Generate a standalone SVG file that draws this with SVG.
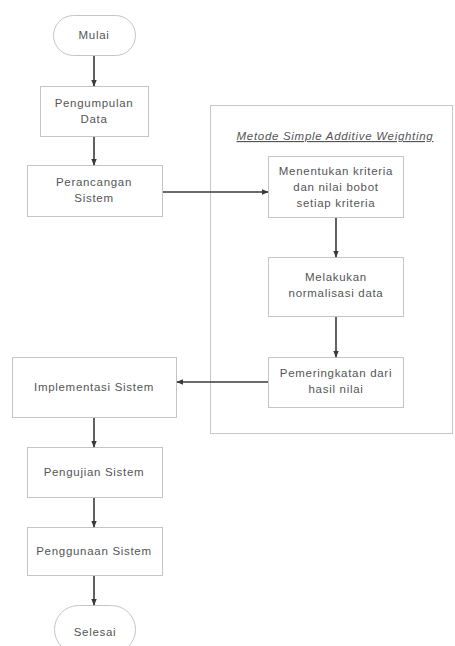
<svg xmlns="http://www.w3.org/2000/svg" width="455" height="646" viewBox="0 0 455 646">
<defs>
<marker id="ah" viewBox="0 0 10 10" refX="9" refY="5" markerWidth="7" markerHeight="7" markerUnits="userSpaceOnUse" orient="auto">
<path d="M0,1 L10,5 L0,9 z" fill="#3a3a3a"/>
</marker>
<style>
.box{fill:#fff;stroke:#c4c4c4;stroke-width:1}
.cont{fill:none;stroke:#c8c8c8;stroke-width:1}
.t{font-family:"Liberation Sans",Arial,sans-serif;font-size:11.5px;letter-spacing:0.7px;fill:#555;text-anchor:middle}
.c{fill:none;stroke:#3a3a3a;stroke-width:1.6;marker-end:url(#ah)}
</style>
</defs>
<rect width="455" height="646" fill="#fff"/>
<g id="container">
<rect class="cont" x="210.5" y="105.5" width="242" height="328"/>
<text class="t" x="335" y="140" font-style="italic" text-decoration="underline">Metode Simple Additive Weighting</text>
</g>
<g id="mulai">
<rect class="box" x="53.5" y="15.5" width="82" height="40" rx="20" ry="20"/>
<text class="t" x="94" y="39">Mulai</text>
</g>
<g id="pengumpulan">
<rect class="box" x="40.5" y="86.5" width="108" height="50"/>
<text class="t" x="94" y="107">Pengumpulan</text>
<text class="t" x="94" y="123">Data</text>
</g>
<g id="perancangan">
<rect class="box" x="27.5" y="165.5" width="135" height="51"/>
<text class="t" x="94" y="186">Perancangan</text>
<text class="t" x="94" y="202">Sistem</text>
</g>
<g id="menentukan">
<rect class="box" x="268.5" y="156.5" width="135" height="61"/>
<text class="t" x="336" y="175">Menentukan kriteria</text>
<text class="t" x="336" y="191">dan nilai bobot</text>
<text class="t" x="336" y="207">setiap kriteria</text>
</g>
<g id="melakukan">
<rect class="box" x="268.5" y="257.5" width="135" height="59"/>
<text class="t" x="336" y="281">Melakukan</text>
<text class="t" x="336" y="297">normalisasi data</text>
</g>
<g id="pemeringkatan">
<rect class="box" x="268.5" y="357.5" width="135" height="50"/>
<text class="t" x="336" y="377">Pemeringkatan dari</text>
<text class="t" x="336" y="393">hasil nilai</text>
</g>
<g id="implementasi">
<rect class="box" x="12.5" y="357.5" width="164" height="60"/>
<text class="t" x="94" y="391">Implementasi Sistem</text>
</g>
<g id="pengujian">
<rect class="box" x="27.5" y="447.5" width="135" height="50"/>
<text class="t" x="94" y="476">Pengujian Sistem</text>
</g>
<g id="penggunaan">
<rect class="box" x="27.5" y="527.5" width="135" height="48"/>
<text class="t" x="94" y="555">Penggunaan Sistem</text>
</g>
<g id="selesai">
<rect class="box" x="54.5" y="605.5" width="81" height="48" rx="24" ry="24"/>
<text class="t" x="95" y="636">Selesai</text>
</g>
<g id="connectors">
<path class="c" d="M94,56 V86"/>
<path class="c" d="M94,137 V165"/>
<path class="c" d="M163,192 H268"/>
<path class="c" d="M336,218 V257"/>
<path class="c" d="M336,317 V357"/>
<path class="c" d="M268,382 H177"/>
<path class="c" d="M94,418 V447"/>
<path class="c" d="M94,498 V527"/>
<path class="c" d="M94,576 V605"/>
</g>
</svg>
